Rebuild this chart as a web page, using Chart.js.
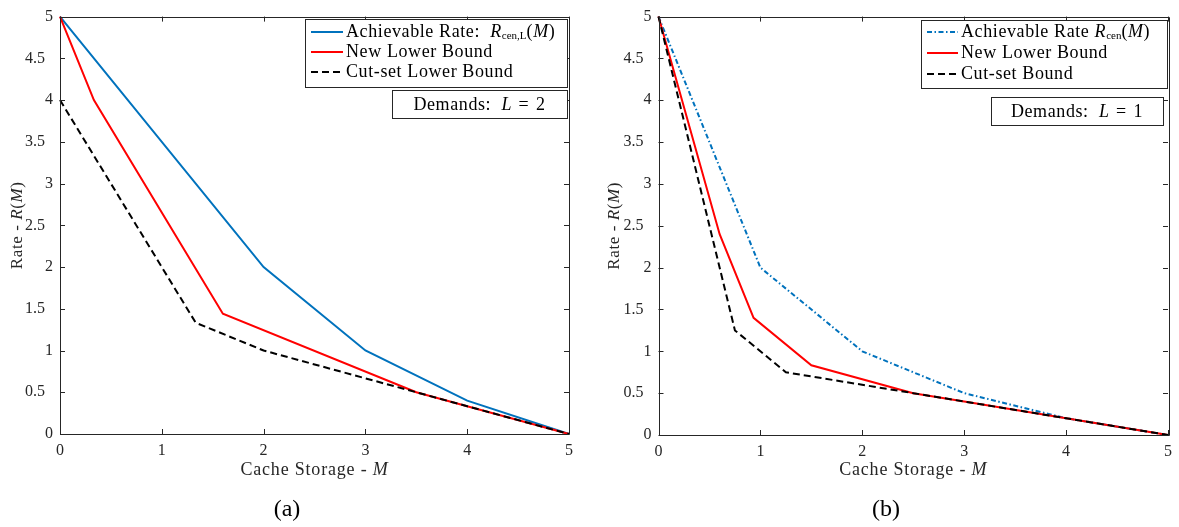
<!DOCTYPE html>
<html>
<head>
<meta charset="utf-8">
<script src="https://cdn.jsdelivr.net/npm/chart.js@4.4.1/dist/chart.umd.min.js"></script>
<style>
  html, body { margin: 0; padding: 0; background: #fff; }
  #wrap { position: relative; width: 1179px; height: 527px; overflow: hidden; }
  canvas { position: absolute; top: 0; }
  #cA { left: 0; }
  #cB { left: 595px; }
</style>
</head>
<body>
<div id="wrap">
  <canvas id="cA" width="595" height="527"></canvas>
  <canvas id="cB" width="584" height="527"></canvas>
</div>
<script>
// ticks shared by both panels
const xTicks = [0, 1, 2, 3, 4, 5];
const yTicks = [0, 0.5, 1, 1.5, 2, 2.5, 3, 3.5, 4, 4.5, 5];

// (a) Demands L = 2
const rateA_M = [0, 2, 3, 4, 5];
const rateA_R = [5, 2, 1, 0.4, 0];
const newA_M = [0, 0.333, 1.6, 3.5, 4, 5];
const newA_R = [5, 4, 1.44, 0.5, 0.333, 0];
const cutA_M = [0, 1.333, 2, 3, 4, 5];
const cutA_R = [4, 1.333, 1, 0.667, 0.333, 0];

// (b) Demands L = 1
const rateB_M = [0, 1, 2, 3, 4, 5];
const rateB_R = [5, 2, 1, 0.5, 0.2, 0];
const newB_M = [0, 0.6, 0.933, 1.5, 2.5, 3, 4, 5];
const newB_R = [5, 2.4, 1.4, 0.833, 0.5, 0.4, 0.2, 0];
const cutB_M = [0, 0.75, 1.25, 2.5, 3, 4, 5];
const cutB_R = [5, 1.25, 0.75, 0.5, 0.4, 0.2, 0];

const FONT = "'Liberation Serif', 'Times New Roman', serif";
const AXIS = '#262626';

function pts(xs, ys) { return xs.map(function (x, i) { return { x: x, y: ys[i] }; }); }

// draw a run of text pieces (italic / subscript) starting at x, vertically centred at y
function drawRich(ctx, parts, x, y, align, size, ls) {
    let total = 0;
    function setFont(p) {
        ctx.font = (p.it ? 'italic ' : '') + (p.sz || size || 18) + 'px ' + FONT;
        ctx.letterSpacing = (p.sz ? 0 : (ls || 0)) + 'px';
    }
    parts.forEach(function (p) {
        setFont(p);
        p.w = ctx.measureText(p.t).width;
        total += p.w;
    });
    let cx = align === 'center' ? x - total / 2 : x;
    ctx.textBaseline = 'middle';
    ctx.textAlign = 'left';
    parts.forEach(function (p) {
        setFont(p);
        ctx.fillText(p.t, cx, y + (p.dy || 0));
        cx += p.w;
    });
    ctx.letterSpacing = '0px';
    return total;
}

// MATLAB style box with inward ticks, legend and labels
const matlabAxes = {
    id: 'matlabAxes',
    afterDraw: function (chart, args, o) {
        const ctx = chart.ctx;
        const a = chart.chartArea;
        const xs = chart.scales.x, ys = chart.scales.y;
        ctx.save();
        ctx.strokeStyle = AXIS;
        ctx.lineWidth = 1;
        ctx.beginPath();
        ctx.rect(Math.round(a.left) + 0.5, Math.round(a.top) + 0.5, Math.round(a.right - a.left), Math.round(a.bottom - a.top));
        const tl = 5;
        xTicks.forEach(function (v) {
            const px = Math.round(xs.getPixelForValue(v)) + 0.5;
            ctx.moveTo(px, a.bottom); ctx.lineTo(px, a.bottom - tl);
            ctx.moveTo(px, a.top); ctx.lineTo(px, a.top + tl);
        });
        yTicks.forEach(function (v) {
            const py = Math.round(ys.getPixelForValue(v)) + 0.5;
            ctx.moveTo(a.left, py); ctx.lineTo(a.left + tl, py);
            ctx.moveTo(a.right, py); ctx.lineTo(a.right - tl, py);
        });
        ctx.stroke();

        // legend
        const L = o.legend;
        ctx.fillStyle = '#fff';
        ctx.fillRect(L.x, L.y, L.w, L.h);
        ctx.strokeRect(L.x + 0.5, L.y + 0.5, L.w, L.h);
        chart.data.datasets.forEach(function (ds, i) {
            const ry = L.y + L.row0 + i * L.step;
            ctx.save();
            ctx.strokeStyle = ds.borderColor;
            ctx.lineWidth = 2;
            ctx.setLineDash(ds.borderDash || []);
            ctx.beginPath();
            ctx.moveTo(L.x + 6, ry); ctx.lineTo(L.x + 6 + L.sample, ry);
            ctx.stroke();
            ctx.restore();
            ctx.fillStyle = '#000';
            drawRich(ctx, o.legendText[i], L.x + 9 + L.sample, ry, 'left', 18, 0.6);
        });

        // demands box
        const D = o.demand;
        ctx.fillStyle = '#fff';
        ctx.fillRect(D.x, D.y, D.w, D.h);
        ctx.strokeStyle = AXIS;
        ctx.strokeRect(D.x + 0.5, D.y + 0.5, D.w, D.h);
        ctx.fillStyle = '#000';
        drawRich(ctx, o.demandText, D.x + D.w / 2, D.y + D.h / 2 + 1, 'center', 18, 0.6);

        // axis titles
        ctx.fillStyle = AXIS;
        drawRich(ctx, [{ t: 'Cache Storage - ' }, { t: 'M', it: true }], (a.left + a.right) / 2, 470, 'center', 18, 0.8);
        ctx.save();
        ctx.translate(o.yTitleX, (a.top + a.bottom) / 2);
        ctx.rotate(-Math.PI / 2);
        drawRich(ctx, [{ t: 'Rate - ' }, { t: 'R', it: true }, { t: '(' }, { t: 'M', it: true }, { t: ')' }], 0, 0, 'center', 17, 0.6);
        ctx.restore();

        // sub-figure caption
        ctx.fillStyle = '#000';
        drawRich(ctx, [{ t: o.caption, sz: 24 }], o.captionX, 510, 'center');
        ctx.restore();
    }
};

function makeChart(id, sets, pad, yW, xH, opts) {
    return new Chart(document.getElementById(id), {
        type: 'line',
        data: {
            datasets: [
                { data: pts(sets[0], sets[1]), borderColor: '#0072BD', borderWidth: 2, borderDash: opts.blueDash, order: 3 },
                { data: pts(sets[2], sets[3]), borderColor: '#FF0000', borderWidth: 2, order: 2 },
                { data: pts(sets[4], sets[5]), borderColor: '#000000', borderWidth: 2, borderDash: [7, 4], order: 1 }
            ]
        },
        options: {
            responsive: false,
            animation: false,
            clip: false,
            elements: { point: { radius: 0 }, line: { tension: 0, fill: false } },
            layout: { padding: pad },
            plugins: { legend: { display: false }, tooltip: { enabled: false }, matlabAxes: opts },
            scales: {
                x: {
                    type: 'linear', min: 0, max: 5,
                    afterBuildTicks: function (s) { s.ticks = xTicks.map(function (v) { return { value: v }; }); },
                    afterFit: function (s) { s.height = xH; },
                    grid: { display: false, drawTicks: false },
                    border: { display: false },
                    ticks: { padding: 7, color: AXIS, font: { family: FONT, size: 16 }, maxRotation: 0 }
                },
                y: {
                    type: 'linear', min: 0, max: 5,
                    afterBuildTicks: function (s) { s.ticks = yTicks.map(function (v) { return { value: v }; }); },
                    afterFit: function (s) { s.width = yW; },
                    grid: { display: false, drawTicks: false },
                    border: { display: false },
                    ticks: {
                        padding: 7, color: AXIS, font: { family: FONT, size: 16 },
                        callback: function (v) { return Number.isInteger(v) ? String(v) : v + '\u2002'; }
                    }
                }
            }
        },
        plugins: [matlabAxes]
    });
}

makeChart('cA', [rateA_M, rateA_R, newA_M, newA_R, cutA_M, cutA_R],
    { top: 12, right: 26, left: 0, bottom: 0 }, 60, 93, {
        blueDash: [],
        legend: { x: 305, y: 19, w: 262, h: 68, row0: 13, step: 20, sample: 32 },
        legendText: [
            [{ t: 'Achievable Rate:  ' }, { t: 'R', it: true }, { t: 'cen,L', sz: 11, dy: 4 }, { t: '(' }, { t: 'M', it: true }, { t: ')' }],
            [{ t: 'New Lower Bound' }],
            [{ t: 'Cut-set Lower Bound' }]
        ],
        demand: { x: 392, y: 90, w: 175, h: 28 },
        demandText: [{ t: 'Demands:  ' }, { t: 'L', it: true }, { t: '\u2004=\u20042' }],
        yTitleX: 18, caption: '(a)', captionX: 287
    });

makeChart('cB', [rateB_M, rateB_R, newB_M, newB_R, cutB_M, cutB_R],
    { top: 12, right: 6.5, left: 0, bottom: 0 }, 63.5, 92, {
        blueDash: [5, 2.5, 1.5, 2.5],
        legend: { x: 326, y: 20, w: 246, h: 68, row0: 12, step: 21, sample: 31 },
        legendText: [
            [{ t: 'Achievable Rate ' }, { t: 'R', it: true }, { t: 'cen', sz: 11, dy: 4 }, { t: '(' }, { t: 'M', it: true }, { t: ')' }],
            [{ t: 'New Lower Bound' }],
            [{ t: 'Cut-set Bound' }]
        ],
        demand: { x: 396, y: 97, w: 172, h: 28 },
        demandText: [{ t: 'Demands:  ' }, { t: 'L', it: true }, { t: '\u2004=\u20041' }],
        yTitleX: 20, caption: '(b)', captionX: 291
    });
</script>
</body>
</html>
